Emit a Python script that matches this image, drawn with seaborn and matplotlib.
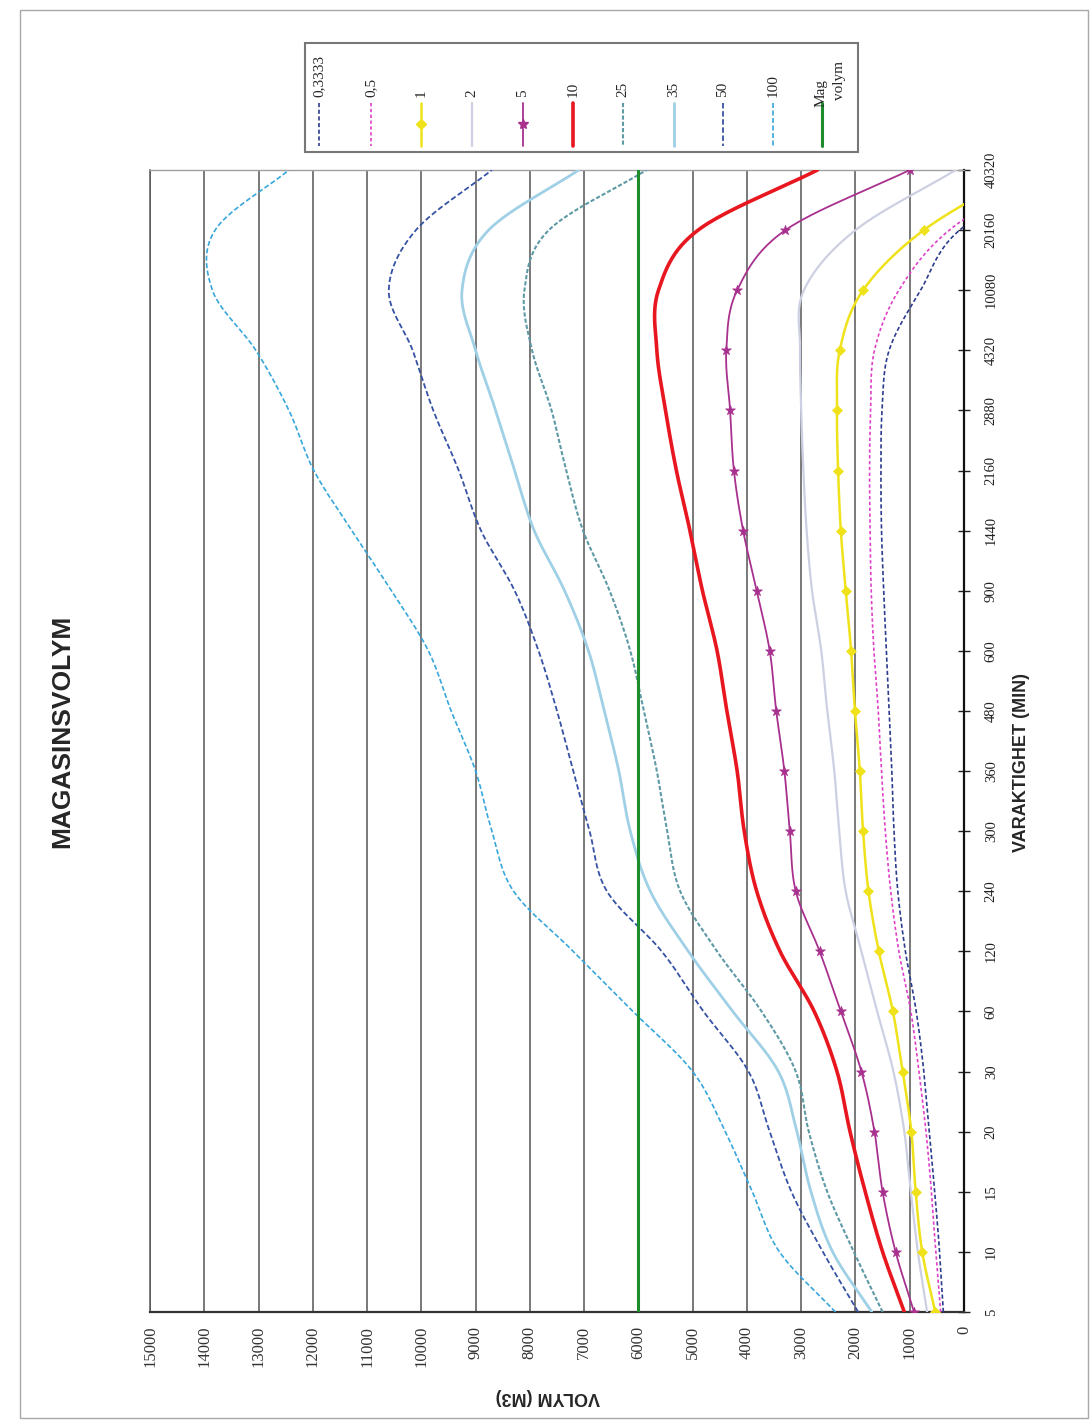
import numpy as np
import pandas as pd
import matplotlib
matplotlib.use("Agg")
import matplotlib.pyplot as plt
from matplotlib.lines import Line2D
from matplotlib.patches import Rectangle
import seaborn as sns

# Duration categories (minutes) and storage volume (m3) per return period
durations = ["5", "10", "15", "20", "30", "60", "120", "240", "300", "360",
             "480", "600", "900", "1440", "2160", "2880", "4320", "10080",
             "20160", "40320"]

vol_0_3333 = [380, 450, 540, 640, 740, 880, 1080, 1220, 1290, 1330, 1380, 1430,
              1480, 1520, 1530, 1510, 1380, 800, 80, -1800]
vol_0_5 = [430, 520, 600, 700, 830, 980, 1200, 1350, 1450, 1520, 1580, 1660,
           1710, 1730, 1740, 1720, 1650, 1200, 270, -1500]
vol_1 = [530, 770, 890, 970, 1130, 1310, 1570, 1760, 1860, 1920, 2010, 2080,
         2180, 2270, 2320, 2340, 2290, 1860, 740, -1100]
vol_2 = [680, 850, 980, 1100, 1300, 1600, 1890, 2180, 2300, 2390, 2520, 2630,
         2800, 2900, 2960, 3000, 3020, 2950, 2000, 150]
vol_5 = [920, 1260, 1500, 1650, 1890, 2270, 2660, 3100, 3210, 3310, 3460, 3580,
         3820, 4070, 4240, 4310, 4380, 4180, 3290, 1000]
vol_10 = [1100, 1500, 1820, 2100, 2340, 2760, 3390, 3820, 4050, 4180, 4370, 4550,
          4820, 5050, 5300, 5500, 5660, 5630, 4900, 2700]
vol_25 = [1500, 2030, 2520, 2860, 3100, 3730, 4550, 5230, 5470, 5660, 5900, 6150,
          6530, 7020, 7330, 7600, 7960, 8100, 7650, 5850]
vol_35 = [1700, 2420, 2820, 3080, 3420, 4260, 5080, 5780, 6150, 6360, 6630, 6920,
          7360, 7920, 8280, 8630, 9000, 9250, 8760, 7100]
vol_50 = [1950, 2600, 3180, 3580, 3970, 4800, 5570, 6580, 6900, 7200, 7500, 7840,
          8280, 8900, 9310, 9780, 10160, 10600, 10100, 8700]
vol_100 = [2370, 3400, 3900, 4400, 5000, 6100, 7200, 8300, 8700, 9000, 9450, 9870,
           10550, 11280, 11980, 12440, 13050, 13850, 13800, 12440]
mag_volym = [6000, 6000, 6000, 6000, 6000, 6000, 6000, 6000, 6000, 6000,
             6000, 6000, 6000, 6000, 6000, 6000, 6000, 6000, 6000, 6000]

# label, values, colour, line width, dash pattern, marker
series = [
    ("0,3333", vol_0_3333, "#2c3c8e", 1.2, (2.5, 1.5), None),
    ("0,5", vol_0_5, "#e040c8", 1.2, (2.0, 1.5), None),
    ("1", vol_1, "#f0e21a", 1.8, None, "D"),
    ("2", vol_2, "#cdd0e2", 1.6, None, None),
    ("5", vol_5, "#a8308e", 1.3, None, "*"),
    ("10", vol_10, "#e8161e", 2.6, None, None),
    ("25", vol_25, "#5e9aa6", 1.5, (2.0, 1.0), None),
    ("35", vol_35, "#9fd0e6", 2.0, None, None),
    ("50", vol_50, "#3552a4", 1.3, (3.0, 1.5), None),
    ("100", vol_100, "#36a6dc", 1.2, (3.0, 1.5), None),
    ("Mag volym", mag_volym, "#1c8c2c", 2.2, None, None),
]


def smooth_curve(values, steps=24):
    """Cubic Hermite (Catmull-Rom) smoothing through the category points."""
    v = np.asarray(values, dtype=float)
    m = len(v)
    tang = np.empty(m)
    tang[1:-1] = (v[2:] - v[:-2]) / 2.0
    tang[0] = v[1] - v[0]
    tang[-1] = v[-1] - v[-2]
    pos, val = [], []
    for i in range(m - 1):
        t = np.linspace(0.0, 1.0, steps, endpoint=False)
        h00 = 2 * t**3 - 3 * t**2 + 1
        h10 = t**3 - 2 * t**2 + t
        h01 = -2 * t**3 + 3 * t**2
        h11 = t**3 - t**2
        pos.append(i + t)
        val.append(h00 * v[i] + h10 * tang[i] + h01 * v[i + 1] + h11 * tang[i + 1])
    pos.append(np.array([m - 1.0]))
    val.append(np.array([v[-1]]))
    return np.concatenate(pos), np.concatenate(val)


sns.set_style("white")
plt.rcParams["font.family"] = ["Liberation Serif", "DejaVu Serif"]

W, H = 1090, 1423
fig = plt.figure(figsize=(W / 100, H / 100), dpi=100)


def fx(px):
    return px / W


def fy(py):
    return 1 - py / H


# Page frame
fig.patches.append(Rectangle((fx(20), fy(1418)), fx(1088) - fx(20), fy(10) - fy(1418),
                             transform=fig.transFigure, fill=False,
                             edgecolor="#a8a8a8", lw=1.0))

# Chart is laid out turned a quarter turn: durations run upward, volume runs leftward
left, right, top, bottom = 150, 964, 170, 1312
ax = fig.add_axes([fx(left), fy(bottom), fx(right) - fx(left), fy(top) - fy(bottom)])

idx = np.arange(len(durations))
for label, vals, color, lw, dash, marker in series:
    p, v = smooth_curve(vals)
    df = pd.DataFrame({"pos": p, "vol": v})
    sns.lineplot(data=df, x="vol", y="pos", orient="y", sort=False, estimator=None,
                 color=color, lw=lw, ax=ax, zorder=3)
    line = ax.lines[-1]
    if dash is not None:
        line.set_dashes(dash)
    if marker is not None:
        pts = pd.DataFrame({"pos": idx, "vol": vals})
        sns.scatterplot(data=pts, x="vol", y="pos", marker=marker,
                        s=55 if marker == "*" else 26, color=color,
                        edgecolor=color, linewidth=0.5, ax=ax, zorder=4)

ax.set_xlim(15000, 0)
ax.set_ylim(0, len(durations) - 1)
ax.set_xticks(np.arange(0, 15001, 1000))
ax.set_xticklabels([str(t) for t in range(0, 15001, 1000)],
                   rotation=90, fontsize=12, color="#444444")
ax.yaxis.tick_right()
ax.set_yticks(idx)
ax.set_yticklabels(durations, rotation=90, va="center", ha="left",
                   fontsize=10.5, color="#222222")
ax.tick_params(axis="x", direction="inout", length=8, width=1.0, pad=6, colors="#333333")
ax.tick_params(axis="y", direction="inout", length=8, width=1.0, pad=11, colors="#222222")
ax.set_xlabel("")
ax.set_ylabel("")

ax.grid(axis="x", color="#555555", lw=1.1, zorder=1)
ax.grid(axis="y", visible=False)
ax.set_axisbelow(True)
ax.spines["left"].set_color("#555555")
ax.spines["left"].set_linewidth(1.1)
ax.spines["top"].set_color("#a0a0a0")
ax.spines["top"].set_linewidth(1.0)
ax.spines["right"].set_color("#111111")
ax.spines["right"].set_linewidth(1.6)
ax.spines["bottom"].set_color("#333333")
ax.spines["bottom"].set_linewidth(1.6)

# Titles and axis names
fig.text(fx(62), fy(731), "MAGASINSVOLYM", rotation=90, ha="center", va="center",
         fontsize=19, fontweight="bold", family=["Liberation Sans", "DejaVu Sans"])
fig.text(fx(1022), fy(762), "VARAKTIGHET (MIN)", rotation=90, ha="center", va="center",
         fontsize=13, fontweight="bold", family=["Liberation Sans", "DejaVu Sans"])
fig.text(fx(548), fy(1396), "VOLYM (M3)", rotation=180, ha="center", va="center",
         fontsize=13, fontweight="bold", family=["Liberation Sans", "DejaVu Sans"])

# Legend box, entries stacked left to right with upright samples
fig.patches.append(Rectangle((fx(305), fy(152)), fx(858) - fx(305), fy(43) - fy(152),
                             transform=fig.transFigure, facecolor="white",
                             edgecolor="#777777", lw=1.5, zorder=5))
entry_x = [319, 371, 421, 472, 523, 573, 623, 674, 723, 773, 822]
for (label, vals, color, lw, dash, marker), xp in zip(series, entry_x):
    ln = Line2D([fx(xp), fx(xp)], [fy(103), fy(146)], transform=fig.transFigure,
                color=color, lw=lw, zorder=6)
    if dash is not None:
        ln.set_dashes(dash)
    fig.lines.append(ln)
    if marker is not None:
        fig.lines.append(Line2D([fx(xp)], [fy(124)], transform=fig.transFigure,
                                marker=marker, color=color, ms=7 if marker == "*" else 5,
                                lw=0, zorder=7))
    if label == "Mag volym":
        fig.text(fx(xp - 1), fy(107), "Mag", rotation=90, ha="center", va="bottom",
                 fontsize=11, zorder=7)
        fig.text(fx(xp + 18), fy(100), "volym", rotation=90, ha="center", va="bottom",
                 fontsize=11, zorder=7)
    else:
        fig.text(fx(xp), fy(97), label, rotation=90, ha="center", va="bottom",
                 fontsize=11, zorder=7)

fig.savefig("out.png", dpi=100, facecolor="white")
